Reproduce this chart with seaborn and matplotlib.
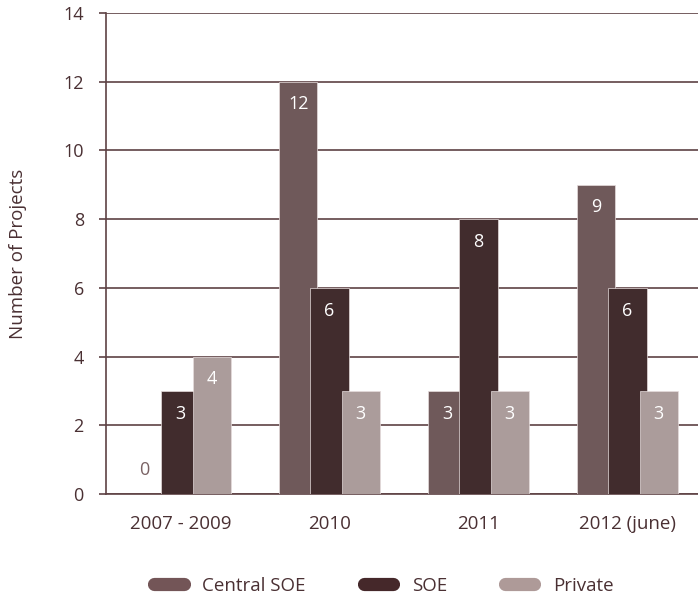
import pandas as pd
import numpy as np
import matplotlib
matplotlib.use('Agg')
import matplotlib.pyplot as plt
from matplotlib.lines import Line2D
import seaborn as sns

# Dados
periods = ['2007 - 2009', '2010', '2011', '2012 (june)']
owners = ['Central SOE', 'SOE', 'Private']
central_soe = [0, 12, 3, 9]
soe = [3, 6, 8, 6]
private = [4, 3, 3, 3]
colors = ['#735557', '#45282a', '#ae9a98']
text_color = '#4a3033'
line_color = '#5e4244'

df = pd.DataFrame({
    'period': periods * 3,
    'owner': [o for o in owners for _ in periods],
    'projects': central_soe + soe + private,
})

sns.set_style('white')
plt.rcParams['font.family'] = ['Open Sans', 'DejaVu Sans']

fig = plt.figure(figsize=(6.98, 5.96), dpi=100)
ax = fig.add_axes([106 / 698, 102 / 596, 596 / 698, 481 / 596])

sns.barplot(data=df, x='period', y='projects', hue='owner', order=periods,
            hue_order=owners, palette=colors, width=0.63, gap=-0.22,
            edgecolor='#e6dcdc', linewidth=0.5, legend=False, ax=ax, zorder=3)

# Rótulos dos valores
n = len(owners)
slot = 0.63 / n
for i, o in enumerate(owners):
    vals = df[df['owner'] == o]['projects'].tolist()
    for j, v in enumerate(vals):
        x = j - 0.63 / 2 + slot * (i + 0.5)
        if v > 0:
            ax.text(x, v - 0.66, str(v), ha='center', va='center', color='white',
                    fontsize=13, zorder=5)
        else:
            ax.text(x - 0.03, 0.7, str(v), ha='center', va='center', color='#7a6264',
                    fontsize=13, zorder=5)

ax.set_ylim(0, 14)
ax.set_xlim(-0.5, 3.5)
ax.set_yticks(range(0, 15, 2))
ax.yaxis.grid(True, color=line_color, linewidth=1.2, zorder=0)
ax.set_axisbelow(True)

for s in ['top', 'right']:
    ax.spines[s].set_visible(False)
for s in ['left', 'bottom']:
    ax.spines[s].set_color(line_color)
    ax.spines[s].set_linewidth(1.2)

ax.set_xticks(np.arange(-0.5, 4, 1), minor=True)
ax.tick_params(axis='x', which='major', length=0, pad=15, labelsize=13.5, labelcolor=text_color)
ax.tick_params(axis='x', which='minor', length=7, width=1.2, color=line_color, direction='out')
ax.tick_params(axis='y', length=5, width=1.2, color=line_color, pad=11, labelsize=13,
               labelcolor=text_color, left=True)

ax.set_xlabel('')
ax.set_ylabel('Number of Projects', fontsize=13.5, color=text_color, labelpad=26)

# Legenda
handles = [Line2D([0], [0], color=c, linewidth=9.5, solid_capstyle='round') for c in colors]
fig.legend(handles, owners, loc='center', bbox_to_anchor=(384 / 698, 1 - 586 / 596), ncol=3,
           frameon=False, fontsize=13.5, labelcolor=text_color, handlelength=1.55,
           handletextpad=1.0, columnspacing=3.1)

fig.savefig('out.png', dpi=100)
